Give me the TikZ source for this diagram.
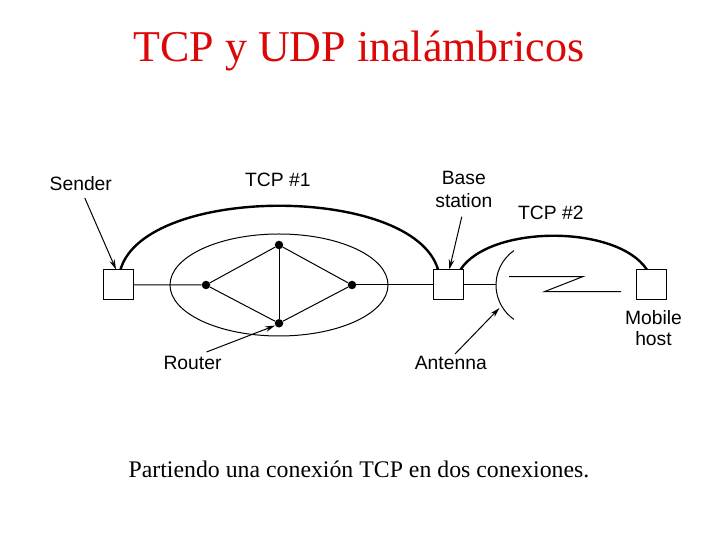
\documentclass[tikz,border=0pt]{standalone}
\usepackage{fontspec}
\setmainfont{Liberation Serif}
\newfontfamily\labelfont{Liberation Sans}
\usetikzlibrary{arrows.meta}
\definecolor{titlered}{RGB}{220,8,8}

\begin{document}
\begin{tikzpicture}[x=10pt, y=10pt,
  box/.style={draw, line width=1pt, minimum width=30pt, minimum height=30pt, inner sep=0pt},
  router/.style={circle, fill, inner sep=0pt, minimum size=8.5pt},
  lbl/.style={inner sep=0pt, font=\labelfont\fontsize{19.3}{23.3}\selectfont, align=center},
  link/.style={line width=1pt},
  conn/.style={line width=2.4pt},
  ptr/.style={line width=1pt, -{Stealth[length=10pt, width=5.5pt]}}]
  \useasboundingbox (0,0) rectangle (72,54);
  \node[anchor=base, text=titlered, font=\fontsize{44}{50}\selectfont] (title) at (35.9,47.8) {TCP y UDP inalámbricos};
  \node[anchor=base, font=\fontsize{23.8}{28}\selectfont] (caption) at (35.9,6.2) {Partiendo una conexión TCP en dos conexiones.};
  % hosts and routers
  \node[box] (snd) at (11.8,25.5) {};
  \node[box] (bs) at (44.8,25.5) {};
  \node[box] (mh) at (65.13,25.5) {};
  \draw[link] (27.9,25.5) ellipse [x radius=10.9, y radius=5.1];
  \node[router] (rl) at (20.6,25.5) {};
  \node[router] (rt) at (27.9,29.5) {};
  \node[router] (rb) at (27.9,21.67) {};
  \node[router] (rr) at (35.2,25.5) {};
  \draw[link] (snd.east) -- (rl) -- (rt) -- (rr) -- (rb) -- (rl);
  \draw[link] (rt) -- (rb);
  \draw[link] (rr) -- (bs.west);
  % antenna and radio link
  \coordinate (antc) at (53.8,25.5);
  \coordinate (ant) at (49.6,25.5);
  \coordinate (antip) at (49.95,23.2);
  \draw[link] ([shift={(125:4.2)}]antc) arc[start angle=125, end angle=235, radius=4.2];
  \draw[link] (bs.east) -- (ant);
  \draw[link] (50.9,26.33) -- (58.27,26.33) -- (54.43,24.83) -- (62.1,24.83);
  % the two connections
  \draw[conn] ([xshift=2.5pt]snd.north) .. controls +(2.5,8.5) and +(-2.5,8.5) .. ([xshift=-10pt]bs.north);
  \draw[conn] ([xshift=12.5pt]bs.north) .. controls +(3,4.5) and +(-3,4.5) .. ([xshift=-4.5pt]mh.north);
  % labels
  \node[lbl, anchor=base] (sender) at (8.08,34.9) {Sender};
  \node[lbl, anchor=base] (tcpone) at (27.78,35.33) {TCP \#1};
  \node[lbl, anchor=south] (station) at (46.38,33.17) {Base\\station};
  \node[lbl, anchor=base] (tcptwo) at (55.08,32.0) {TCP \#2};
  \node[lbl, anchor=base] (router) at (19.25,17.0) {Router};
  \node[lbl, anchor=base] (antenna) at (45.08,17.0) {Antenna};
  \node[lbl, anchor=north] (mobile) at (65.35,23.0) {Mobile\\[-1.5pt]host};
  \draw[ptr] ([xshift=4pt,yshift=-7pt]sender.base) -- ([xshift=-2pt]snd.north);
  \draw[ptr] ([xshift=-2pt,yshift=-8.4pt]station.south) -- ([xshift=1.3pt]bs.north);
  \draw[ptr] ([xshift=14pt,yshift=18pt]router.base) -- (rb.210);
  \draw[ptr] ([xshift=4.2pt,yshift=16pt]antenna.base) -- (antip);
\end{tikzpicture}
\end{document}
